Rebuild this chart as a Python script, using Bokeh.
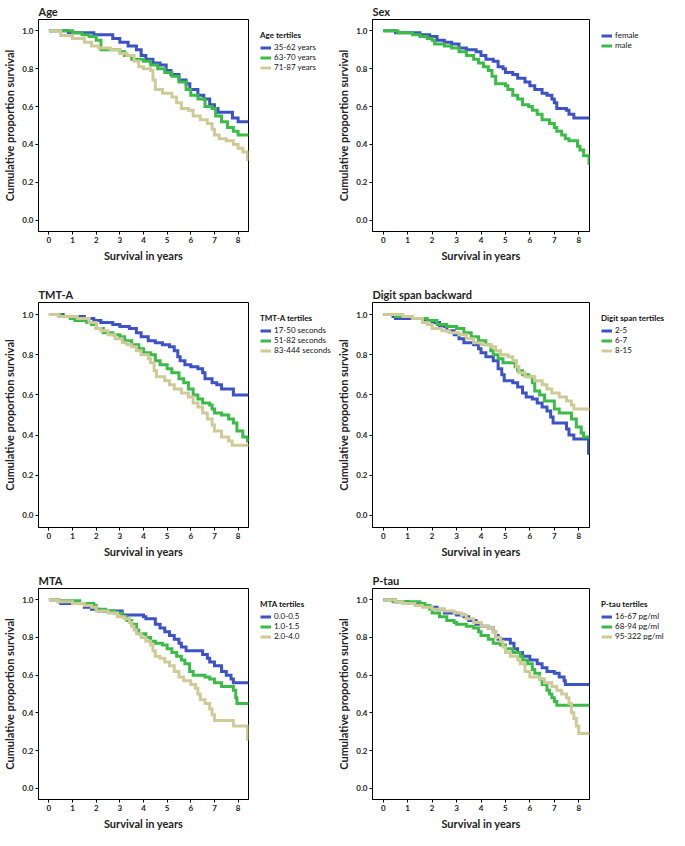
from bokeh.plotting import figure
from bokeh.layouts import column, row
from bokeh.models import Range1d, FixedTicker, PrintfTickFormatter, Legend, LegendItem, Title
from bokeh.embed import file_html
from bokeh.resources import INLINE

BLUE = "#3D52C4"
GREEN = "#3DBB48"
KHAKI = "#CFCB98"
FONT = "Lato"

x_ticks = [0, 1, 2, 3, 4, 5, 6, 7, 8]
y_ticks = [0.0, 0.2, 0.4, 0.6, 0.8, 1.0]

# ---- Age ----
age_labels = ["35-62 years", "63-70 years", "71-87 years"]
age_b_t = [0, 0.83, 1.9, 2.7, 3.0, 3.35, 3.7, 3.9, 4.1, 4.4, 4.7, 4.96, 5.16, 5.5, 5.8, 5.96, 6.3, 6.55, 6.8, 7.0, 7.15, 7.76, 8.0, 8.45]
age_b_s = [1.0, 0.99, 0.98, 0.96, 0.94, 0.92, 0.90, 0.87, 0.85, 0.83, 0.82, 0.79, 0.77, 0.74, 0.72, 0.69, 0.66, 0.64, 0.61, 0.59, 0.57, 0.54, 0.52, 0.52]
age_g_t = [0, 1.0, 1.4, 1.7, 2.0, 2.2, 3.0, 3.2, 3.5, 4.0, 4.3, 4.6, 4.9, 5.2, 5.5, 5.8, 6.0, 6.3, 6.6, 6.9, 7.05, 7.3, 7.55, 7.8, 8.0, 8.45]
age_g_s = [1.0, 0.99, 0.98, 0.97, 0.95, 0.90, 0.89, 0.87, 0.85, 0.84, 0.82, 0.80, 0.78, 0.76, 0.73, 0.69, 0.66, 0.64, 0.60, 0.59, 0.55, 0.52, 0.49, 0.47, 0.45, 0.45]
age_k_t = [0, 0.5, 1.0, 1.5, 1.8, 2.1, 2.6, 3.0, 3.3, 3.6, 3.8, 4.0, 4.3, 4.4, 4.5, 4.8, 5.2, 5.4, 5.6, 5.9, 6.1, 6.4, 6.7, 6.9, 7.0, 7.2, 7.5, 7.8, 8.0, 8.2, 8.4, 8.45]
age_k_s = [1.0, 0.975, 0.96, 0.94, 0.92, 0.91, 0.90, 0.88, 0.87, 0.84, 0.81, 0.80, 0.79, 0.74, 0.69, 0.67, 0.65, 0.62, 0.59, 0.58, 0.55, 0.53, 0.51, 0.48, 0.45, 0.43, 0.42, 0.40, 0.38, 0.36, 0.32, 0.32]

# ---- Sex ----
sex_labels = ["female", "male"]
sex_f_t = [0, 0.5, 1.5, 1.9, 2.2, 2.5, 2.8, 3.1, 3.4, 3.8, 4.0, 4.2, 4.5, 4.7, 4.9, 5.0, 5.3, 5.5, 5.8, 6.0, 6.2, 6.5, 6.7, 6.9, 7.0, 7.1, 7.5, 7.6, 7.8, 8.45]
sex_f_s = [1.0, 0.99, 0.98, 0.97, 0.95, 0.94, 0.93, 0.91, 0.90, 0.89, 0.87, 0.85, 0.84, 0.81, 0.80, 0.78, 0.77, 0.75, 0.73, 0.71, 0.69, 0.67, 0.66, 0.64, 0.62, 0.59, 0.58, 0.56, 0.54, 0.54]
sex_m_t = [0, 0.6, 1.2, 1.5, 1.8, 2.0, 2.1, 2.5, 2.8, 3.1, 3.4, 3.7, 3.9, 4.1, 4.3, 4.45, 4.6, 5.0, 5.1, 5.3, 5.5, 5.7, 5.95, 6.1, 6.3, 6.5, 6.8, 7.0, 7.1, 7.3, 7.45, 7.6, 7.95, 8.05, 8.2, 8.42, 8.45]
sex_m_s = [1.0, 0.99, 0.98, 0.97, 0.96, 0.95, 0.93, 0.92, 0.91, 0.89, 0.87, 0.85, 0.83, 0.81, 0.79, 0.76, 0.72, 0.71, 0.69, 0.66, 0.64, 0.61, 0.60, 0.58, 0.56, 0.53, 0.51, 0.49, 0.47, 0.45, 0.43, 0.42, 0.39, 0.37, 0.34, 0.30, 0.30]

# ---- TMT-A ----
tmt_labels = ["17-50 seconds", "51-82 seconds", "83-444 seconds"]
tmt_b_t = [0, 0.6, 1.5, 1.9, 2.2, 2.7, 3.0, 3.4, 3.7, 3.9, 4.2, 4.5, 4.8, 5.1, 5.3, 5.45, 5.55, 5.75, 6.0, 6.3, 6.5, 6.6, 6.9, 7.1, 7.3, 7.8, 8.45]
tmt_b_s = [1.0, 0.99, 0.98, 0.97, 0.96, 0.95, 0.94, 0.93, 0.91, 0.89, 0.87, 0.86, 0.85, 0.84, 0.82, 0.79, 0.77, 0.75, 0.74, 0.73, 0.71, 0.68, 0.66, 0.65, 0.63, 0.60, 0.60]
tmt_g_t = [0, 0.5, 0.9, 1.1, 1.6, 1.8, 2.0, 2.3, 2.7, 3.0, 3.2, 3.5, 3.8, 4.0, 4.3, 4.5, 4.7, 5.0, 5.2, 5.5, 5.7, 5.9, 6.1, 6.3, 6.5, 6.8, 6.9, 7.0, 7.3, 7.6, 7.8, 7.95, 8.2, 8.4, 8.45]
tmt_g_s = [1.0, 0.99, 0.98, 0.97, 0.96, 0.95, 0.93, 0.91, 0.90, 0.89, 0.87, 0.85, 0.83, 0.81, 0.80, 0.77, 0.75, 0.73, 0.71, 0.68, 0.66, 0.63, 0.60, 0.58, 0.56, 0.55, 0.53, 0.51, 0.50, 0.48, 0.46, 0.42, 0.39, 0.37, 0.37]
tmt_k_t = [0, 0.4, 1.2, 1.7, 2.0, 2.2, 2.5, 2.8, 3.1, 3.3, 3.5, 3.7, 3.9, 4.2, 4.3, 4.45, 4.55, 4.9, 5.1, 5.3, 5.6, 5.9, 6.1, 6.3, 6.5, 6.7, 6.9, 7.0, 7.3, 7.6, 7.75, 8.45]
tmt_k_s = [1.0, 0.99, 0.98, 0.96, 0.93, 0.92, 0.90, 0.88, 0.86, 0.85, 0.84, 0.82, 0.80, 0.78, 0.76, 0.72, 0.69, 0.67, 0.65, 0.63, 0.61, 0.59, 0.56, 0.54, 0.51, 0.48, 0.45, 0.42, 0.39, 0.37, 0.35, 0.35]

# ---- Digit span backward ----
ds_labels = ["2-5", "6-7", "8-15"]
ds_b_t = [0, 0.4, 0.5, 1.7, 2.0, 2.3, 2.6, 2.9, 3.1, 3.3, 3.7, 3.9, 4.0, 4.2, 4.5, 4.7, 4.85, 4.95, 5.3, 5.5, 5.7, 5.85, 6.1, 6.3, 6.5, 6.7, 6.85, 6.95, 7.5, 7.6, 7.8, 8.4, 8.45]
ds_b_s = [1.0, 0.99, 0.98, 0.97, 0.96, 0.94, 0.92, 0.90, 0.88, 0.86, 0.85, 0.83, 0.81, 0.79, 0.77, 0.73, 0.70, 0.67, 0.66, 0.64, 0.61, 0.59, 0.58, 0.56, 0.54, 0.52, 0.49, 0.46, 0.43, 0.40, 0.38, 0.31, 0.31]
ds_g_t = [0, 0.5, 1.2, 1.8, 2.2, 2.6, 3.0, 3.3, 3.6, 3.9, 4.2, 4.4, 4.5, 4.7, 4.9, 5.4, 5.5, 5.7, 5.95, 6.1, 6.2, 6.4, 6.6, 7.0, 7.2, 7.7, 7.9, 8.1, 8.2, 8.45]
ds_g_s = [1.0, 0.99, 0.98, 0.97, 0.95, 0.94, 0.93, 0.91, 0.89, 0.87, 0.85, 0.82, 0.80, 0.78, 0.76, 0.74, 0.72, 0.70, 0.69, 0.66, 0.62, 0.60, 0.57, 0.53, 0.51, 0.48, 0.44, 0.41, 0.39, 0.39]
ds_k_t = [0, 0.8, 1.2, 1.6, 1.8, 2.0, 2.4, 2.7, 3.1, 3.4, 3.7, 4.0, 4.4, 4.6, 4.8, 5.1, 5.3, 5.45, 5.55, 5.8, 6.2, 6.5, 6.7, 6.9, 7.2, 7.5, 7.7, 7.8, 8.45]
ds_k_s = [1.0, 0.99, 0.98, 0.96, 0.95, 0.93, 0.92, 0.91, 0.90, 0.88, 0.86, 0.85, 0.84, 0.82, 0.80, 0.79, 0.77, 0.74, 0.71, 0.69, 0.67, 0.65, 0.63, 0.61, 0.59, 0.57, 0.55, 0.53, 0.53]

# ---- MTA ----
mta_labels = ["0.0-0.5", "1.0-1.5", "2.0-4.0"]
mta_b_t = [0, 0.4, 0.5, 1.5, 1.8, 2.1, 3.1, 4.0, 4.1, 4.5, 4.7, 4.9, 5.1, 5.3, 5.5, 5.6, 5.8, 6.5, 6.7, 6.8, 7.0, 7.3, 7.5, 7.7, 7.8, 8.45]
mta_b_s = [1.0, 0.99, 0.98, 0.96, 0.95, 0.94, 0.92, 0.91, 0.90, 0.87, 0.85, 0.83, 0.81, 0.79, 0.77, 0.75, 0.73, 0.71, 0.69, 0.67, 0.65, 0.62, 0.60, 0.58, 0.56, 0.56]
mta_g_t = [0, 0.4, 1.3, 1.9, 2.0, 2.4, 2.8, 3.1, 3.3, 3.5, 3.7, 3.8, 4.1, 4.3, 4.5, 4.8, 5.0, 5.2, 5.4, 5.6, 5.75, 5.95, 6.1, 6.6, 6.8, 7.0, 7.3, 7.8, 7.9, 7.95, 8.45]
mta_g_s = [1.0, 0.995, 0.98, 0.97, 0.95, 0.94, 0.93, 0.91, 0.89, 0.87, 0.84, 0.82, 0.80, 0.78, 0.77, 0.76, 0.74, 0.72, 0.70, 0.68, 0.66, 0.62, 0.60, 0.59, 0.58, 0.56, 0.54, 0.52, 0.48, 0.45, 0.45]
mta_k_t = [0, 0.4, 1.0, 1.5, 1.8, 2.0, 2.5, 2.9, 3.2, 3.4, 3.5, 3.6, 3.7, 3.9, 4.1, 4.3, 4.4, 4.5, 4.7, 4.9, 5.1, 5.3, 5.5, 5.7, 6.0, 6.2, 6.3, 6.4, 6.6, 6.8, 6.9, 7.0, 7.8, 8.4, 8.45]
mta_k_s = [1.0, 0.99, 0.98, 0.97, 0.96, 0.94, 0.93, 0.91, 0.90, 0.88, 0.86, 0.84, 0.82, 0.80, 0.78, 0.76, 0.73, 0.70, 0.69, 0.67, 0.65, 0.62, 0.59, 0.57, 0.55, 0.53, 0.50, 0.47, 0.45, 0.42, 0.39, 0.36, 0.33, 0.26, 0.26]

# ---- P-tau ----
pt_labels = ["16-67 pg/ml", "68-94 pg/ml", "95-322 pg/ml"]
pt_b_t = [0, 0.5, 1.0, 1.5, 1.9, 2.2, 2.5, 3.0, 3.3, 3.5, 3.8, 4.0, 4.3, 4.5, 4.6, 4.7, 5.2, 5.35, 5.5, 5.7, 6.0, 6.3, 6.5, 6.7, 7.0, 7.2, 7.4, 7.45, 8.45]
pt_b_s = [1.0, 0.99, 0.98, 0.97, 0.96, 0.95, 0.93, 0.92, 0.91, 0.89, 0.87, 0.86, 0.85, 0.83, 0.81, 0.79, 0.77, 0.74, 0.72, 0.70, 0.68, 0.66, 0.64, 0.62, 0.61, 0.59, 0.57, 0.55, 0.55]
pt_g_t = [0, 0.4, 1.5, 1.7, 1.9, 2.0, 2.3, 2.6, 2.9, 3.0, 3.4, 3.7, 3.9, 4.0, 4.3, 4.5, 4.8, 5.0, 5.3, 5.6, 5.7, 5.9, 6.1, 6.2, 6.4, 6.5, 6.7, 6.8, 6.9, 7.0, 7.1, 8.45]
pt_g_s = [1.0, 0.99, 0.98, 0.97, 0.95, 0.93, 0.91, 0.89, 0.88, 0.87, 0.86, 0.85, 0.83, 0.81, 0.79, 0.77, 0.76, 0.74, 0.72, 0.70, 0.68, 0.66, 0.63, 0.61, 0.58, 0.55, 0.52, 0.50, 0.48, 0.46, 0.44, 0.44]
pt_k_t = [0, 0.5, 0.8, 1.3, 1.6, 2.0, 2.5, 2.9, 3.2, 3.4, 3.7, 4.0, 4.3, 4.5, 4.6, 4.8, 4.9, 5.0, 5.2, 5.5, 5.6, 5.8, 6.0, 6.4, 6.6, 6.9, 7.1, 7.3, 7.5, 7.6, 7.7, 7.8, 7.9, 8.0, 8.45]
pt_k_s = [1.0, 0.99, 0.98, 0.97, 0.96, 0.95, 0.94, 0.93, 0.92, 0.90, 0.88, 0.86, 0.85, 0.83, 0.80, 0.78, 0.75, 0.72, 0.70, 0.68, 0.66, 0.62, 0.59, 0.58, 0.56, 0.54, 0.52, 0.50, 0.48, 0.45, 0.40, 0.37, 0.33, 0.29, 0.29]


def make_panel(title, series, labels, legend_title, width, leg_width, height, top):
    p = figure(width=width, height=height,
               x_range=Range1d(-0.44, 8.44), y_range=Range1d(-0.06, 1.06),
               output_backend="svg", toolbar_location=None,
               min_border_left=0, min_border_right=1,
               min_border_top=top, min_border_bottom=0,
               title=title)
    p.title.text_font = FONT
    p.title.text_font_size = "11px"
    p.title.text_font_style = "bold"
    p.title.text_color = "#222222"
    p.title.standoff = 4
    p.title.offset = 0
    p.outline_line_color = "black"
    p.outline_line_alpha = 1
    p.outline_line_width = 1
    p.xgrid.visible = False
    p.ygrid.visible = False

    for ax in (p.xaxis[0], p.yaxis[0]):
        ax.major_tick_in = 0
        ax.major_tick_out = 3
        ax.minor_tick_line_color = None
        ax.axis_line_color = "black"
        ax.major_tick_line_color = "black"
        ax.major_label_text_font = FONT
        ax.major_label_text_font_size = "8px"
        ax.major_label_text_font_style = "bold"
        ax.major_label_text_color = "#222222"
        ax.major_label_standoff = 2
    p.xaxis[0].ticker = FixedTicker(ticks=x_ticks)
    p.yaxis[0].ticker = FixedTicker(ticks=y_ticks)
    p.yaxis[0].formatter = PrintfTickFormatter(format="%.1f")
    ya = p.yaxis[0]
    ya.axis_label = "Cumulative proportion survival"
    ya.axis_label_text_font = FONT
    ya.axis_label_text_font_size = "11px"
    ya.axis_label_text_font_style = "bold"
    ya.axis_label_text_color = "#222222"
    ya.axis_label_standoff = 3
    xlab = Title(text="Survival in years", align="center", text_font=FONT,
                 text_font_size="11px", text_font_style="bold", text_color="#222222",
                 standoff=2, offset=0)
    p.add_layout(xlab, "below")

    for (t, s, c) in series:
        p.step(t, s, mode="after", line_width=3, line_color=c, line_join="miter")

    # legend drawn in its own narrow panel to the right of the plot;
    # its key renderers use the same series but lie outside that panel's view
    lf = figure(width=leg_width, height=height, x_range=Range1d(-30, -29), y_range=Range1d(0, 1),
                output_backend="svg", toolbar_location=None,
                x_axis_location=None, y_axis_location=None,
                min_border_left=0, min_border_right=0,
                min_border_top=top, min_border_bottom=0)
    lf.grid.visible = False
    lf.outline_line_color = None
    items = []
    for (t, s, c), lab in zip(series, labels):
        r = lf.line(t, s, line_width=3, line_color=c)
        items.append(LegendItem(label=lab, renderers=[r]))
    leg = Legend(items=items, location="top_left")
    if legend_title:
        leg.title = legend_title
        leg.title_text_font = FONT
        leg.title_text_font_size = "8px"
        leg.title_text_font_style = "bold"
        leg.title_text_color = "#111111"
        leg.title_standoff = 2
    leg.label_text_font = FONT
    leg.label_text_font_size = "8px"
    leg.label_text_color = "#111111"
    leg.glyph_width = 11
    leg.glyph_height = 7
    leg.label_height = 7
    leg.label_standoff = 3
    leg.spacing = 0
    leg.padding = 2
    leg.margin = 11
    leg.border_line_color = None
    leg.background_fill_alpha = 0
    lf.add_layout(leg)
    return row(p, lf)


LP, LL = 249, 85
RP, RL = 256, 79
p1 = make_panel("Age", [(age_b_t, age_b_s, BLUE), (age_g_t, age_g_s, GREEN), (age_k_t, age_k_s, KHAKI)],
                age_labels, "Age tertiles", LP, LL, 262, 17)
p2 = make_panel("Sex", [(sex_f_t, sex_f_s, BLUE), (sex_m_t, sex_m_s, GREEN)],
                sex_labels, None, RP, RL, 262, 17)
p3 = make_panel("TMT-A", [(tmt_b_t, tmt_b_s, BLUE), (tmt_g_t, tmt_g_s, GREEN), (tmt_k_t, tmt_k_s, KHAKI)],
                tmt_labels, "TMT-A tertiles", LP, LL, 296, 40)
p4 = make_panel("Digit span backward", [(ds_b_t, ds_b_s, BLUE), (ds_g_t, ds_g_s, GREEN), (ds_k_t, ds_k_s, KHAKI)],
                ds_labels, "Digit span tertiles", RP, RL, 296, 40)
p5 = make_panel("MTA", [(mta_b_t, mta_b_s, BLUE), (mta_g_t, mta_g_s, GREEN), (mta_k_t, mta_k_s, KHAKI)],
                mta_labels, "MTA tertiles", LP, LL, 272, 30)
p6 = make_panel("P-tau", [(pt_b_t, pt_b_s, BLUE), (pt_g_t, pt_g_s, GREEN), (pt_k_t, pt_k_s, KHAKI)],
                pt_labels, "P-tau tertiles", RP, RL, 272, 30)

layout = column(row(p1, p2), row(p3, p4), row(p5, p6))
open("out.html", "w").write(file_html(layout, INLINE))
